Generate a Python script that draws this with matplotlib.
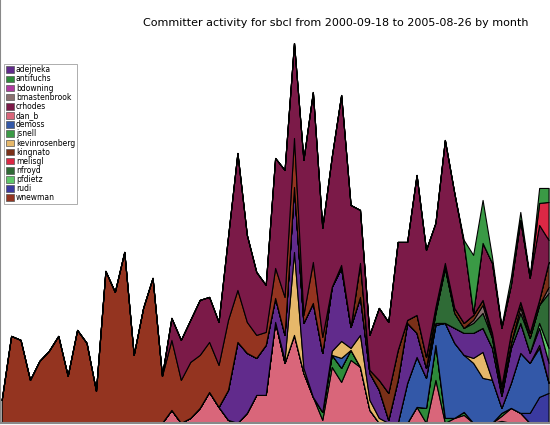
import numpy as np
import matplotlib
matplotlib.use('Agg')
import matplotlib.pyplot as plt
from matplotlib.patches import Patch

months = np.arange(59)  # 2000-09 .. 2005-07

names = ['adejneka', 'antifuchs', 'bdowning', 'bmastenbrook', 'crhodes', 'dan_b', 'demoss',
         'jsnell', 'kevinrosenberg', 'kingnato', 'melisgl', 'nfroyd', 'pfdietz', 'rudi', 'wnewman']

dan_b = [0]*10 + [0, 0, 0, 0, 0, 0, 0, 0, 13, 0] + \
    [5, 15, 31, 16, 3, 0, 10, 28, 28, 101] + [60, 88, 50, 26, 3, 56, 41, 63, 56, 13] + \
    [0, 0, 0, 0, 16, 0, 43, 0, 5, 8] + [0, 0, 0, 5, 15, 10, 0, 0, 0]
antifuchs = [0]*30 + [0, 0, 0, 0, 8, 12, 14, 10, 0, 0] + \
    [0, 0, 0, 0, 0, 15, 35, 5, 0, 3] + [0, 0, 0, 3, 0, 0, 0, 0, 0]
bdowning = [0]*53 + [2, 0, 0, 0, 0, 0]
rudi = [0]*56 + [10, 26, 30]
demoss = [0]*30 + [0, 0, 0, 0, 0, 0, 10, 0, 0, 0] + \
    [0, 0, 0, 40, 50, 30, 20, 95, 75, 57] + [60, 45, 43, 5, 25, 60, 50, 49, 10]
kevinrosenberg = [0]*30 + [3, 83, 5, 0, 0, 4, 17, 2, 32, 10] + \
    [5, 0, 0, 0, 0, 0, 0, 0, 0, 0] + [5, 26, 0, 0, 0, 0, 0, 3, 0]
adejneka = [0]*20 + [0, 0, 0, 0, 30, 81, 60, 37, 50, 24] + \
    [25, 65, 45, 94, 59, 64, 73, 21, 38, 27] + [28, 3, 43, 60, 24, 10, 2, 0, 15, 22] + \
    [25, 24, 32, 12, 35, 30, 10, 17, 20]
pfdietz = [0]*57 + [5, 15]
nfroyd = [0]*40 + [0, 0, 0, 0, 0, 0, 10, 55, 15, 5] + [10, 15, 10, 5, 5, 10, 15, 18, 55]
bmastenbrook = [0]*50 + [3, 8, 0, 0, 0, 6, 0, 0, 6]
kingnato = [0]*38 + [34, 3, 10, 27, 30, 3, 18, 11, 6, 5, 5, 5, 5, 5, 5, 5, 10, 5, 5, 5, 25]
wnewman = [23, 87, 83, 43, 62, 72, 87, 47, 93, 80, 32, 152, 131, 171, 68, 115, 145, 47] + \
    [70, 43, 56, 53, 50, 42, 70, 52, 31, 23, 13, 30, 38, 49, 8, 41, 16, 0, 3, 0] + [0]*21
crhodes = [0]*18 + [22, 40, 42, 55, 45, 43, 83, 137, 87, 63,
                    47, 110, 127, 95, 155, 170, 109, 130, 170, 122,
                    53, 35, 72, 71, 108, 78, 140, 107, 84, 123,
                    115, 80, 2, 57, 70, 58, 48, 82, 55, 75, 22]
melisgl = [0]*57 + [22, 38]
jsnell = [0]*49 + [3, 58, 43, 6, 2, 8, 8, 1, 15, 14]

colors = {
    'adejneka': '#612b8c', 'antifuchs': '#2e8b3a', 'bdowning': '#b03aa0',
    'bmastenbrook': '#8a7070', 'crhodes': '#7b1a48', 'dan_b': '#d9667a',
    'demoss': '#3358a8', 'jsnell': '#3a9a45', 'kevinrosenberg': '#e6b86a',
    'kingnato': '#7a3018', 'melisgl': '#dc2845', 'nfroyd': '#2f6b36',
    'pfdietz': '#5fc76a', 'rudi': '#3a3aa0', 'wnewman': '#943420',
}

# bottom to top
stack = [('bdowning', bdowning), ('dan_b', dan_b), ('antifuchs', antifuchs), ('rudi', rudi),
         ('demoss', demoss), ('kevinrosenberg', kevinrosenberg), ('adejneka', adejneka),
         ('pfdietz', pfdietz), ('nfroyd', nfroyd), ('bmastenbrook', bmastenbrook),
         ('kingnato', kingnato), ('wnewman', wnewman), ('crhodes', crhodes),
         ('melisgl', melisgl), ('jsnell', jsnell)]

fig = plt.figure(figsize=(5.5, 4.25), dpi=100)
ax = fig.add_axes([0, 0.005, 1, 0.995])
ax.stackplot(months, [s[1] for s in stack], colors=[colors[s[0]] for s in stack],
             edgecolor='black', linewidth=0.8)
ax.set_xlim(-0.18, 58.15)
ax.set_ylim(0, 423)
ax.set_xticks([])
ax.set_yticks([])
for side in ['top', 'right']:
    ax.spines[side].set_visible(False)
for side in ['left', 'bottom']:
    ax.spines[side].set_color('#888888')
    ax.spines[side].set_linewidth(1.5)

fig.text(0.61, 0.945, 'Committer activity for sbcl from 2000-09-18 to 2005-08-26 by month',
         ha='center', va='center', fontsize=8)

handles = [Patch(facecolor=colors[n], edgecolor='#555555', linewidth=0.5) for n in names]
leg = ax.legend(handles, names, loc='upper left', bbox_to_anchor=(0.008, 0.85),
                bbox_transform=fig.transFigure, fontsize=5.5, frameon=True, fancybox=False,
                handlelength=1.0, handleheight=0.95, handletextpad=0.3, labelspacing=0.02,
                borderpad=0.2, borderaxespad=0)
leg.get_frame().set_edgecolor('#888888')
leg.get_frame().set_linewidth(0.6)

fig.savefig('out.png', dpi=100)
